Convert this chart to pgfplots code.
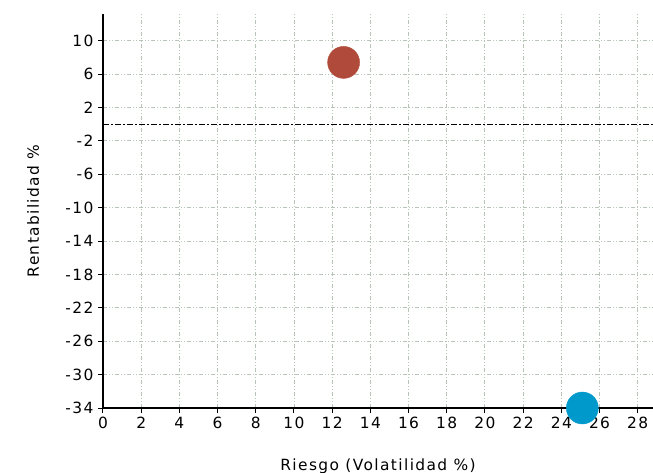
\documentclass[border=0pt]{standalone}
\usepackage{fontspec}
\setmainfont{DejaVu Sans}
\newfontfamily\lbl{DejaVu Sans}[LetterSpace=9, Scale=1.55]
\usepackage{pgfplots}
\pgfplotsset{compat=1.18}
\definecolor{gridc}{HTML}{B9C4B9}
\definecolor{redpt}{HTML}{B04A3A}
\definecolor{bluept}{HTML}{0099CC}
\begin{document}
\begin{tikzpicture}
\begin{axis}[
  scale only axis,
  width=550bp, height=394bp,
  xmin=0, xmax=28.8, ymin=-34, ymax=13.2,
  axis lines=left,
  axis line style={black, line width=1.3bp, -},
  xtick={0,2,...,28},
  ytick={-34,-30,...,10},
  tick style={black, line width=1bp},
  tick align=outside,
  major tick length=5bp,
  grid=major,
  grid style={gridc, line width=0.9bp, dash pattern=on 4bp off 2bp on 1bp off 2bp on 1bp off 2bp},
  tick label style={font=\lbl},
  /pgf/number format/assume math mode=true,
  xlabel={Riesgo (Volatilidad \%)},
  ylabel={Rentabilidad \%},
  every axis x label/.style={at={(axis description cs:0.5,0)}, anchor=center, yshift=-58bp, font=\lbl},
  every axis y label/.style={at={(axis description cs:-0.127,0.5)}, anchor=center, rotate=90, font=\lbl},
  xticklabel style={yshift=-1bp},
  yticklabel style={xshift=-1bp},
  clip=false,
]
\addplot[black, line width=1.1bp, dash pattern=on 6bp off 2bp on 2bp off 2bp, forget plot] coordinates {(0,0) (28.8,0)};
\addplot[only marks, mark=*, mark size=16bp, mark options={draw=redpt, fill=redpt}] coordinates {(12.6,7.4)};
\addplot[only marks, mark=*, mark size=16bp, mark options={draw=bluept, fill=bluept}] coordinates {(25.1,-34)};
\end{axis}
\pgfresetboundingbox
\path (current axis.south west) ++(-103bp,-65bp) rectangle ++(653bp,473bp);
\end{tikzpicture}
\end{document}
